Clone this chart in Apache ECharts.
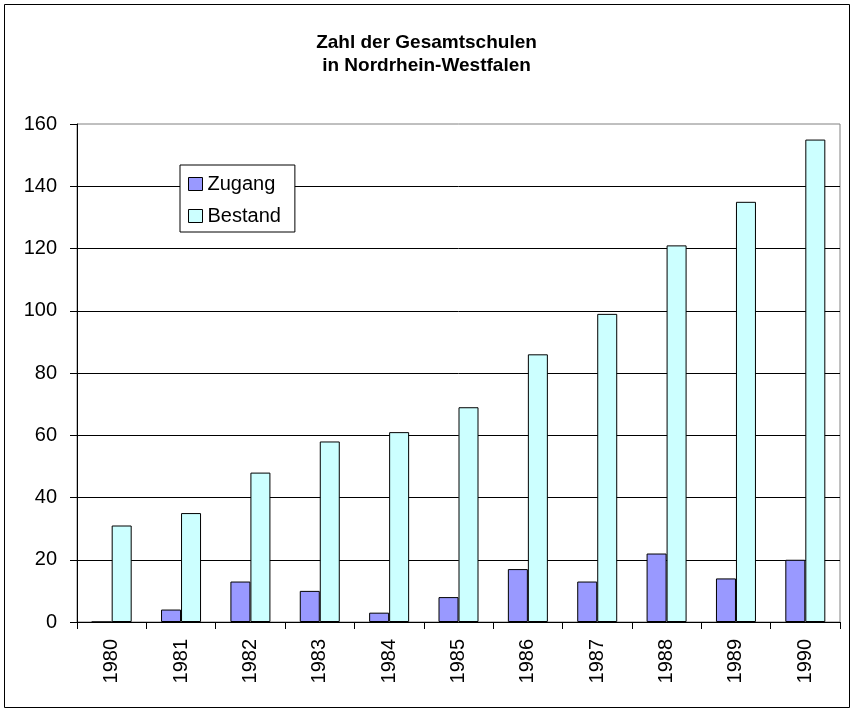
<!DOCTYPE html>
<html>
<head>
<meta charset="utf-8">
<script src="https://cdn.jsdelivr.net/npm/echarts@6/dist/echarts.min.js"></script>
<style>html,body{margin:0;padding:0;background:#fff}#c{width:853px;height:712px}</style>
</head>
<body>
<div id="c"></div>
<script>
var categories = ['1980','1981','1982','1983','1984','1985','1986','1987','1988','1989','1990'];
var zugang = [0, 4, 13, 10, 3, 8, 17, 13, 22, 14, 20];
var bestand = [31, 35, 48, 58, 61, 69, 86, 99, 121, 135, 155];
var seriesNames = ['Zugang', 'Bestand'];
var titleLines = ['Zahl der Gesamtschulen', 'in Nordrhein-Westfalen'];

var FONT = '"Liberation Sans", Arial, sans-serif';
var chart = echarts.init(document.getElementById('c'), null, {renderer: 'canvas'});
chart.setOption({
  animation: false,
  backgroundColor: '#fff',
  title: {
    text: titleLines.join('\n'),
    left: 'center',
    top: 26,
    textStyle: {fontFamily: FONT, fontSize: 19, fontWeight: 'bold', color: '#000', lineHeight: 23}
  },
  graphic: [{
    type: 'rect',
    shape: {x: 4.5, y: 4.5, width: 845, height: 703},
    style: {fill: 'none', stroke: '#000', lineWidth: 1},
    silent: true
  }],
  legend: {
    data: seriesNames,
    orient: 'vertical',
    left: 180,
    top: 165,
    padding: [9, 14, 6, 8],
    itemGap: 12,
    itemWidth: 14,
    itemHeight: 13,
    icon: 'rect',
    backgroundColor: '#fff',
    borderColor: '#000',
    borderWidth: 1,
    itemStyle: {borderColor: '#000', borderWidth: 1},
    textStyle: {fontFamily: FONT, fontSize: 20, color: '#000'}
  },
  grid: {
    left: 77, right: 13, top: 124, bottom: 90,
    show: true, borderColor: '#808080', borderWidth: 1, backgroundColor: '#fff'
  },
  xAxis: {
    type: 'category',
    data: categories,
    boundaryGap: true,
    axisLine: {lineStyle: {color: '#000', width: 1}},
    axisTick: {show: true, length: 7, inside: false, lineStyle: {color: '#000'}},
    axisLabel: {rotate: 90, margin: 17, fontFamily: FONT, fontSize: 20, color: '#000', interval: 0}
  },
  yAxis: {
    type: 'value',
    min: 0, max: 160, interval: 20,
    axisLine: {show: true, lineStyle: {color: '#000', width: 1}},
    axisTick: {show: true, length: 7, lineStyle: {color: '#000'}},
    axisLabel: {margin: 20, fontFamily: FONT, fontSize: 20, color: '#000'},
    splitLine: {show: true, showMaxLine: false, lineStyle: {color: '#000', width: 1}}
  },
  series: [
    {
      name: seriesNames[0], type: 'bar', data: zugang,
      barWidth: 20, barGap: '0%',
      itemStyle: {color: '#9999FF', borderColor: '#000', borderWidth: 1}
    },
    {
      name: seriesNames[1], type: 'bar', data: bestand,
      barWidth: 20, barGap: '0%',
      itemStyle: {color: '#CCFFFF', borderColor: '#000', borderWidth: 1}
    }
  ]
});
</script>
</body>
</html>
